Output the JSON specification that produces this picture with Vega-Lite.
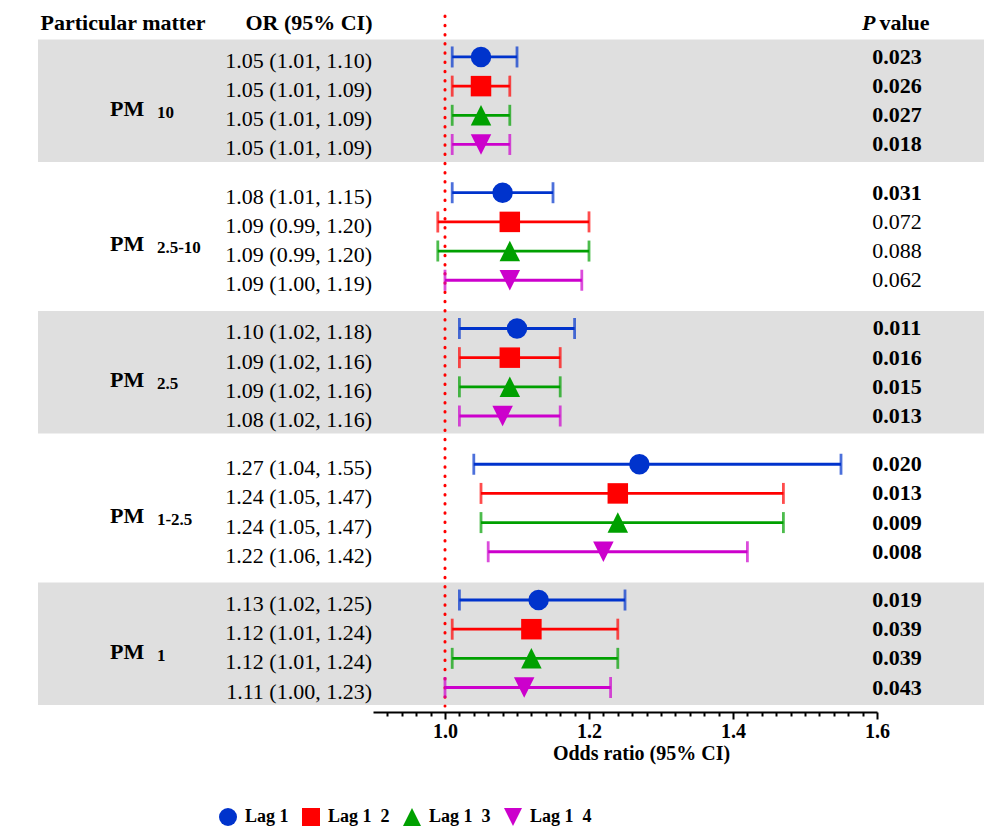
{
  "$schema": "https://vega.github.io/schema/vega-lite/v6.json",
  "autosize": {"type": "pad"},
  "padding": {"left": 38, "top": 11, "right": 0, "bottom": 0},
  "background": "white",
  "config": {"font": "Liberation Serif", "view": {"stroke": null}, "axis": {"grid": false}},
  "datasets": {
    "groups": [
      {"group": "PM10", "main": "PM", "sub": "10"},
      {"group": "PM2.5-10", "main": "PM", "sub": "2.5-10"},
      {"group": "PM2.5", "main": "PM", "sub": "2.5"},
      {"group": "PM1-2.5", "main": "PM", "sub": "1-2.5"},
      {"group": "PM1", "main": "PM", "sub": "1"}
    ],
    "rows": [
      {"group": "PM10", "lag": "Lag 1", "or": 1.05, "lo": 1.01, "hi": 1.10, "ci": "1.05 (1.01, 1.10)", "p": "0.023"},
      {"group": "PM10", "lag": "Lag 1\u20022", "or": 1.05, "lo": 1.01, "hi": 1.09, "ci": "1.05 (1.01, 1.09)", "p": "0.026"},
      {"group": "PM10", "lag": "Lag 1\u20023", "or": 1.05, "lo": 1.01, "hi": 1.09, "ci": "1.05 (1.01, 1.09)", "p": "0.027"},
      {"group": "PM10", "lag": "Lag 1\u20024", "or": 1.05, "lo": 1.01, "hi": 1.09, "ci": "1.05 (1.01, 1.09)", "p": "0.018"},
      {"group": "PM2.5-10", "lag": "Lag 1", "or": 1.08, "lo": 1.01, "hi": 1.15, "ci": "1.08 (1.01, 1.15)", "p": "0.031"},
      {"group": "PM2.5-10", "lag": "Lag 1\u20022", "or": 1.09, "lo": 0.99, "hi": 1.20, "ci": "1.09 (0.99, 1.20)", "p": "0.072"},
      {"group": "PM2.5-10", "lag": "Lag 1\u20023", "or": 1.09, "lo": 0.99, "hi": 1.20, "ci": "1.09 (0.99, 1.20)", "p": "0.088"},
      {"group": "PM2.5-10", "lag": "Lag 1\u20024", "or": 1.09, "lo": 1.00, "hi": 1.19, "ci": "1.09 (1.00, 1.19)", "p": "0.062"},
      {"group": "PM2.5", "lag": "Lag 1", "or": 1.10, "lo": 1.02, "hi": 1.18, "ci": "1.10 (1.02, 1.18)", "p": "0.011"},
      {"group": "PM2.5", "lag": "Lag 1\u20022", "or": 1.09, "lo": 1.02, "hi": 1.16, "ci": "1.09 (1.02, 1.16)", "p": "0.016"},
      {"group": "PM2.5", "lag": "Lag 1\u20023", "or": 1.09, "lo": 1.02, "hi": 1.16, "ci": "1.09 (1.02, 1.16)", "p": "0.015"},
      {"group": "PM2.5", "lag": "Lag 1\u20024", "or": 1.08, "lo": 1.02, "hi": 1.16, "ci": "1.08 (1.02, 1.16)", "p": "0.013"},
      {"group": "PM1-2.5", "lag": "Lag 1", "or": 1.27, "lo": 1.04, "hi": 1.55, "ci": "1.27 (1.04, 1.55)", "p": "0.020"},
      {"group": "PM1-2.5", "lag": "Lag 1\u20022", "or": 1.24, "lo": 1.05, "hi": 1.47, "ci": "1.24 (1.05, 1.47)", "p": "0.013"},
      {"group": "PM1-2.5", "lag": "Lag 1\u20023", "or": 1.24, "lo": 1.05, "hi": 1.47, "ci": "1.24 (1.05, 1.47)", "p": "0.009"},
      {"group": "PM1-2.5", "lag": "Lag 1\u20024", "or": 1.22, "lo": 1.06, "hi": 1.42, "ci": "1.22 (1.06, 1.42)", "p": "0.008"},
      {"group": "PM1", "lag": "Lag 1", "or": 1.13, "lo": 1.02, "hi": 1.25, "ci": "1.13 (1.02, 1.25)", "p": "0.019"},
      {"group": "PM1", "lag": "Lag 1\u20022", "or": 1.12, "lo": 1.01, "hi": 1.24, "ci": "1.12 (1.01, 1.24)", "p": "0.039"},
      {"group": "PM1", "lag": "Lag 1\u20023", "or": 1.12, "lo": 1.01, "hi": 1.24, "ci": "1.12 (1.01, 1.24)", "p": "0.039"},
      {"group": "PM1", "lag": "Lag 1\u20024", "or": 1.11, "lo": 1.00, "hi": 1.23, "ci": "1.11 (1.00, 1.23)", "p": "0.043"}
    ]
  },
  "spacing": 0,
  "bounds": "flush",
  "resolve": {"scale": {"x": "independent", "y": "independent"}},
  "hconcat": [
    {
      "width": 335,
      "height": 690,
      "resolve": {"axis": {"x": "independent"}},
      "layer": [
        {
          "data": {"name": "groups"},
          "transform": [{"filter": {"field": "group", "oneOf": ["PM10", "PM2.5", "PM1"]}}],
          "mark": {"type": "rect", "color": "#dfdfdf"},
          "encoding": {
            "y": {"field": "group", "type": "nominal", "axis": null, "scale": {"type": "band", "domain": ["PM10", "PM2.5-10", "PM2.5", "PM1-2.5", "PM1"], "paddingInner": 0.0976, "paddingOuter": 0.09, "align": 0.96}}
          }
        },
        {
          "data": {"name": "groups"},
          "mark": {"type": "text", "align": "left", "baseline": "middle", "fontSize": 22, "fontWeight": "bold", "dy": 8, "color": "black"},
          "encoding": {
            "y": {"field": "group", "type": "nominal", "axis": null, "scale": {"type": "band", "domain": ["PM10", "PM2.5-10", "PM2.5", "PM1-2.5", "PM1"], "paddingInner": 0.0976, "paddingOuter": 0.09, "align": 0.96}},
            "x": {"datum": 0.215, "type": "quantitative", "scale": {"domain": [0, 1], "zero": false, "nice": false},
              "axis": {"orient": "top", "offset": -13.5, "values": [0.006, 0.997], "labelExpr": "datum.value < 0.5 ? 'Particular matter' : 'OR (95% CI)'", "labelAlign": {"condition": {"test": "datum.value < 0.5", "value": "left"}, "value": "right"}, "labelFontWeight": "bold", "labelFontSize": 22, "labelBaseline": "alphabetic", "labelPadding": 0, "ticks": false, "tickSize": 0, "domain": false, "labelOverlap": false, "labelFlush": false, "labelBound": false, "labelColor": "black", "title": null}},
            "text": {"field": "main"}
          }
        },
        {
          "data": {"name": "groups"},
          "mark": {"type": "text", "align": "left", "baseline": "middle", "fontSize": 17, "fontWeight": "bold", "dy": 12, "color": "black"},
          "encoding": {
            "y": {"field": "group", "type": "nominal", "axis": null, "scale": {"type": "band", "domain": ["PM10", "PM2.5-10", "PM2.5", "PM1-2.5", "PM1"], "paddingInner": 0.0976, "paddingOuter": 0.09, "align": 0.96}},
            "x": {"datum": 0.355, "type": "quantitative", "axis": null},
            "text": {"field": "sub"}
          }
        },
        {
          "data": {"name": "rows"},
          "mark": {"type": "text", "align": "right", "baseline": "middle", "fontSize": 22, "dy": 4, "color": "black"},
          "encoding": {
            "y": {"field": "group", "type": "nominal", "axis": null, "scale": {"type": "band", "domain": ["PM10", "PM2.5-10", "PM2.5", "PM1-2.5", "PM1"], "paddingInner": 0.0976, "paddingOuter": 0.09, "align": 0.96}},
            "yOffset": {"field": "lag", "type": "nominal", "scale": {"type": "band", "domain": ["Lag 1", "Lag 1\u20022", "Lag 1\u20023", "Lag 1\u20024"], "paddingInner": 0, "paddingOuter": 0.1}},
            "x": {"datum": 0.997, "type": "quantitative", "axis": null},
            "text": {"field": "ci"}
          }
        }
      ]
    },
    {
      "width": 504,
      "height": 690,
      "resolve": {"axis": {"x": "independent"}},
      "layer": [
        {
          "data": {"name": "groups"},
          "transform": [{"filter": {"field": "group", "oneOf": ["PM10", "PM2.5", "PM1"]}}],
          "mark": {"type": "rect", "color": "#dfdfdf"},
          "encoding": {
            "y": {"field": "group", "type": "nominal", "axis": null, "scale": {"type": "band", "domain": ["PM10", "PM2.5-10", "PM2.5", "PM1-2.5", "PM1"], "paddingInner": 0.0976, "paddingOuter": 0.09, "align": 0.96}}
          }
        },
        {
          "data": {"values": [{}]},
          "mark": {"type": "rule", "color": "#ff0000", "strokeWidth": 3, "strokeDash": [0.5, 8.7], "strokeCap": "round"},
          "encoding": {
            "x": {"datum": 1, "type": "quantitative", "scale": {"domain": [0.9, 1.6], "zero": false, "nice": false},
              "axis": {"orient": "bottom", "offset": 6, "values": [0.92, 0.94, 0.96, 0.98, 1.02, 1.04, 1.06, 1.08, 1.1, 1.12, 1.14, 1.16, 1.18, 1.22, 1.24, 1.26, 1.28, 1.3, 1.32, 1.34, 1.36, 1.38, 1.42, 1.44, 1.46, 1.48, 1.5, 1.52, 1.54, 1.56, 1.58], "labels": false, "ticks": true, "tickSize": 4, "tickWidth": 2, "tickColor": "black", "domain": true, "domainWidth": 2, "domainColor": "black", "title": null, "grid": false}}
          }
        },
        {
          "data": {"name": "rows"},
          "mark": {"type": "rule", "strokeWidth": 2.8},
          "encoding": {
            "y": {"field": "group", "type": "nominal", "axis": null, "scale": {"type": "band", "domain": ["PM10", "PM2.5-10", "PM2.5", "PM1-2.5", "PM1"], "paddingInner": 0.0976, "paddingOuter": 0.09, "align": 0.96}},
            "yOffset": {"field": "lag", "type": "nominal", "scale": {"type": "band", "domain": ["Lag 1", "Lag 1\u20022", "Lag 1\u20023", "Lag 1\u20024"], "paddingInner": 0, "paddingOuter": 0.1}},
            "x": {"field": "lo", "type": "quantitative",
              "axis": {"orient": "bottom", "offset": 6, "values": [1.0, 1.2, 1.4, 1.6], "format": ".1f", "tickSize": 7, "tickWidth": 2, "tickColor": "black", "domain": false, "labelFontSize": 20, "labelFontWeight": "bold", "labelColor": "black", "labelPadding": 2, "labelFlush": false, "labelOverlap": false, "title": "Odds ratio (95% CI)", "titleFontSize": 20, "titleFontWeight": "bold", "titleColor": "black", "titleX": 268, "titleY": 47, "titleBaseline": "alphabetic", "grid": false}},
            "x2": {"field": "hi"},
            "color": {"field": "lag", "type": "nominal",
              "scale": {"domain": ["Lag 1", "Lag 1\u20022", "Lag 1\u20023", "Lag 1\u20024"], "range": ["#0033cc", "#ff0000", "#00a000", "#cc00cc"]},
              "legend": {"orient": "none", "legendX": 181, "legendY": 792, "direction": "horizontal", "title": null, "padding": 0, "labelFontSize": 18, "labelFontWeight": "bold", "labelColor": "black", "symbolSize": 324, "symbolStrokeWidth": 0, "symbolOpacity": 1, "columnPadding": 13, "labelOffset": 8}}
          }
        },
        {
          "data": {"name": "rows"},
          "mark": {"type": "tick", "thickness": 2.8, "size": 21},
          "encoding": {
            "y": {"field": "group", "type": "nominal", "axis": null, "scale": {"type": "band", "domain": ["PM10", "PM2.5-10", "PM2.5", "PM1-2.5", "PM1"], "paddingInner": 0.0976, "paddingOuter": 0.09, "align": 0.96}},
            "yOffset": {"field": "lag", "type": "nominal", "scale": {"type": "band", "domain": ["Lag 1", "Lag 1\u20022", "Lag 1\u20023", "Lag 1\u20024"], "paddingInner": 0, "paddingOuter": 0.1}},
            "x": {"field": "lo", "type": "quantitative", "axis": null},
            "size": {"value": 21},
            "color": {"field": "lag", "type": "nominal",
              "legend": {"orient": "none", "legendX": 181, "legendY": 792, "direction": "horizontal", "title": null, "padding": 0, "labelFontSize": 18, "labelFontWeight": "bold", "labelColor": "black", "symbolSize": 324, "symbolStrokeWidth": 0, "symbolOpacity": 1, "columnPadding": 13, "labelOffset": 8}}
          }
        },
        {
          "data": {"name": "rows"},
          "mark": {"type": "tick", "thickness": 2.8, "size": 21},
          "encoding": {
            "y": {"field": "group", "type": "nominal", "axis": null, "scale": {"type": "band", "domain": ["PM10", "PM2.5-10", "PM2.5", "PM1-2.5", "PM1"], "paddingInner": 0.0976, "paddingOuter": 0.09, "align": 0.96}},
            "yOffset": {"field": "lag", "type": "nominal", "scale": {"type": "band", "domain": ["Lag 1", "Lag 1\u20022", "Lag 1\u20023", "Lag 1\u20024"], "paddingInner": 0, "paddingOuter": 0.1}},
            "x": {"field": "hi", "type": "quantitative", "axis": null},
            "size": {"value": 21},
            "color": {"field": "lag", "type": "nominal",
              "legend": {"orient": "none", "legendX": 181, "legendY": 792, "direction": "horizontal", "title": null, "padding": 0, "labelFontSize": 18, "labelFontWeight": "bold", "labelColor": "black", "symbolSize": 324, "symbolStrokeWidth": 0, "symbolOpacity": 1, "columnPadding": 13, "labelOffset": 8}}
          }
        },
        {
          "data": {"name": "rows"},
          "mark": {"type": "point", "filled": true, "size": 420, "opacity": 1},
          "encoding": {
            "y": {"field": "group", "type": "nominal", "axis": null, "scale": {"type": "band", "domain": ["PM10", "PM2.5-10", "PM2.5", "PM1-2.5", "PM1"], "paddingInner": 0.0976, "paddingOuter": 0.09, "align": 0.96}},
            "yOffset": {"field": "lag", "type": "nominal", "scale": {"type": "band", "domain": ["Lag 1", "Lag 1\u20022", "Lag 1\u20023", "Lag 1\u20024"], "paddingInner": 0, "paddingOuter": 0.1}},
            "x": {"field": "or", "type": "quantitative", "axis": null},
            "color": {"field": "lag", "type": "nominal",
              "legend": {"orient": "none", "legendX": 181, "legendY": 792, "direction": "horizontal", "title": null, "padding": 0, "labelFontSize": 18, "labelFontWeight": "bold", "labelColor": "black", "symbolSize": 324, "symbolStrokeWidth": 0, "symbolOpacity": 1, "columnPadding": 13, "labelOffset": 8}},
            "shape": {"field": "lag", "type": "nominal",
              "scale": {"domain": ["Lag 1", "Lag 1\u20022", "Lag 1\u20023", "Lag 1\u20024"], "range": ["circle", "square", "M0,-1L1,1L-1,1Z", "M-1,-1L1,-1L0,1Z"]},
              "legend": {"orient": "none", "legendX": 181, "legendY": 792, "direction": "horizontal", "title": null, "padding": 0, "labelFontSize": 18, "labelFontWeight": "bold", "labelColor": "black", "symbolSize": 324, "symbolStrokeWidth": 0, "symbolOpacity": 1, "columnPadding": 13, "labelOffset": 8}}
          }
        }
      ]
    },
    {
      "width": 107,
      "height": 690,
      "resolve": {"axis": {"x": "independent"}},
      "layer": [
        {
          "data": {"name": "groups"},
          "transform": [{"filter": {"field": "group", "oneOf": ["PM10", "PM2.5", "PM1"]}}],
          "mark": {"type": "rect", "color": "#dfdfdf"},
          "encoding": {
            "y": {"field": "group", "type": "nominal", "axis": null, "scale": {"type": "band", "domain": ["PM10", "PM2.5-10", "PM2.5", "PM1-2.5", "PM1"], "paddingInner": 0.0976, "paddingOuter": 0.09, "align": 0.96}}
          }
        },
        {
          "data": {"name": "rows"},
          "transform": [{"filter": "toNumber(datum.p) < 0.05"}],
          "mark": {"type": "text", "align": "center", "baseline": "middle", "fontSize": 22, "fontWeight": "bold", "color": "black"},
          "encoding": {
            "y": {"field": "group", "type": "nominal", "axis": null, "scale": {"type": "band", "domain": ["PM10", "PM2.5-10", "PM2.5", "PM1-2.5", "PM1"], "paddingInner": 0.0976, "paddingOuter": 0.09, "align": 0.96}},
            "yOffset": {"field": "lag", "type": "nominal", "scale": {"type": "band", "domain": ["Lag 1", "Lag 1\u20022", "Lag 1\u20023", "Lag 1\u20024"], "paddingInner": 0, "paddingOuter": 0.1}},
            "x": {"datum": 0.187, "type": "quantitative", "scale": {"domain": [0, 1], "zero": false, "nice": false},
              "axis": {"orient": "top", "offset": -13.5, "values": [0, 0.0187], "labelExpr": "datum.value < 0.01 ? 'P' : 'value'", "labelAlign": {"condition": {"test": "datum.value < 0.01", "value": "right"}, "value": "left"}, "labelOffset": {"condition": {"test": "datum.value < 0.01", "value": -2}, "value": 0}, "labelFontStyle": {"condition": {"test": "datum.value < 0.01", "value": "italic"}, "value": "normal"}, "labelFontWeight": "bold", "labelFontSize": 22, "labelBaseline": "alphabetic", "labelPadding": 0, "ticks": false, "tickSize": 0, "domain": false, "labelOverlap": false, "labelFlush": false, "labelBound": false, "labelColor": "black", "title": null}},
            "text": {"field": "p"}
          }
        },
        {
          "data": {"name": "rows"},
          "transform": [{"filter": "toNumber(datum.p) >= 0.05"}],
          "mark": {"type": "text", "align": "center", "baseline": "middle", "fontSize": 22, "color": "black"},
          "encoding": {
            "y": {"field": "group", "type": "nominal", "axis": null, "scale": {"type": "band", "domain": ["PM10", "PM2.5-10", "PM2.5", "PM1-2.5", "PM1"], "paddingInner": 0.0976, "paddingOuter": 0.09, "align": 0.96}},
            "yOffset": {"field": "lag", "type": "nominal", "scale": {"type": "band", "domain": ["Lag 1", "Lag 1\u20022", "Lag 1\u20023", "Lag 1\u20024"], "paddingInner": 0, "paddingOuter": 0.1}},
            "x": {"datum": 0.187, "type": "quantitative", "axis": null},
            "text": {"field": "p"}
          }
        }
      ]
    }
  ]
}
